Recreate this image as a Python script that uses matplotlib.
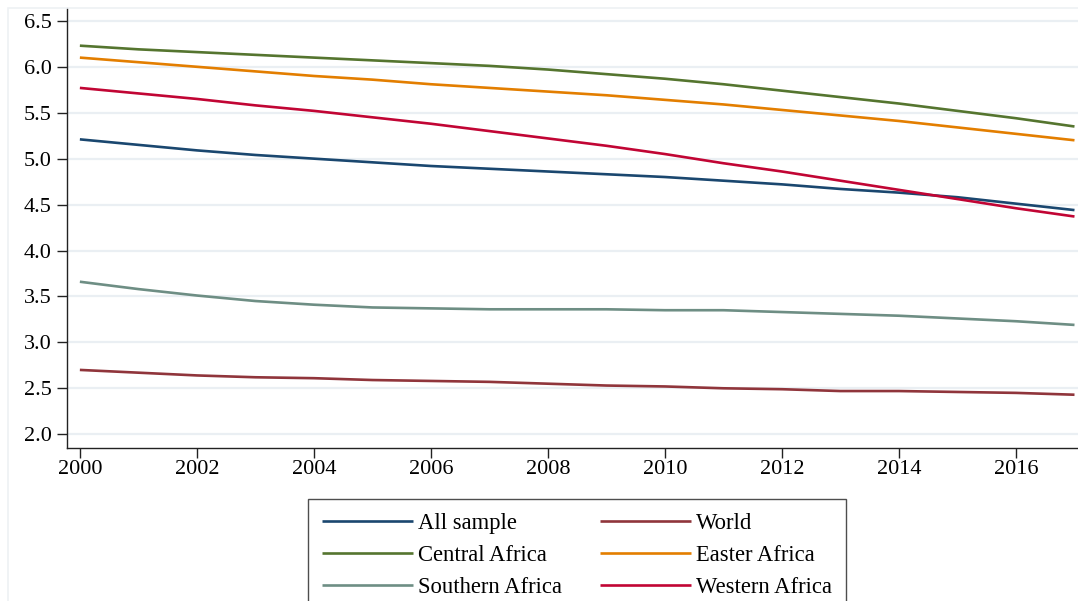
import matplotlib.pyplot as plt
from matplotlib.patches import Rectangle

years = list(range(2000, 2018))

all_sample = [5.21, 5.15, 5.09, 5.04, 5.00, 4.96, 4.92, 4.89, 4.86, 4.83,
              4.80, 4.76, 4.72, 4.67, 4.63, 4.58, 4.51, 4.44]
world = [2.70, 2.67, 2.64, 2.62, 2.61, 2.59, 2.58, 2.57, 2.55, 2.53,
         2.52, 2.50, 2.49, 2.47, 2.47, 2.46, 2.45, 2.43]
central_africa = [6.23, 6.19, 6.16, 6.13, 6.10, 6.07, 6.04, 6.01, 5.97, 5.92,
                  5.87, 5.81, 5.74, 5.67, 5.60, 5.52, 5.44, 5.35]
easter_africa = [6.10, 6.05, 6.00, 5.95, 5.90, 5.86, 5.81, 5.77, 5.73, 5.69,
                 5.64, 5.59, 5.53, 5.47, 5.41, 5.34, 5.27, 5.20]
southern_africa = [3.66, 3.58, 3.51, 3.45, 3.41, 3.38, 3.37, 3.36, 3.36, 3.36,
                   3.35, 3.35, 3.33, 3.31, 3.29, 3.26, 3.23, 3.19]
western_africa = [5.77, 5.71, 5.65, 5.58, 5.52, 5.45, 5.38, 5.30, 5.22, 5.14,
                  5.05, 4.95, 4.86, 4.76, 4.66, 4.56, 4.46, 4.37]

series = [
    ("All sample", all_sample, "#1a476f"),
    ("World", world, "#90353b"),
    ("Central Africa", central_africa, "#55752f"),
    ("Easter Africa", easter_africa, "#e37e00"),
    ("Southern Africa", southern_africa, "#6e8e84"),
    ("Western Africa", western_africa, "#c10534"),
]

yticks = [2.0, 2.5, 3.0, 3.5, 4.0, 4.5, 5.0, 5.5, 6.0, 6.5]
xticks = list(range(2000, 2017, 2))

plt.rcParams["font.family"] = ["Liberation Serif", "DejaVu Serif"]

W, H = 1078, 601
fig = plt.figure(figsize=(W / 100, H / 100), dpi=100)
fig.patch.set_facecolor("white")

# faint outline of the plot region
fig.patches.append(Rectangle((8 / W, -0.1), 1.2, 1.1 - 8 / H,
                             transform=fig.transFigure, fill=False,
                             edgecolor="#eef1f4", linewidth=1.2))

ax = fig.add_axes([67 / W, 1 - 448 / H, 1 - 67 / W, (448 - 8) / H])

lines = {}
for label, values, color in series:
    lines[label], = ax.plot(years, values, color=color, linewidth=1.9,
                            label=label, solid_capstyle="butt")

ax.set_xlim(1999.78, 2017.06)
ax.set_ylim(1.85, 6.64)
ax.set_xticks(xticks)
ax.set_yticks(yticks)
ax.set_yticklabels([f"{v:.1f}" for v in yticks])
ax.grid(axis="y", color="#eaeff3", linewidth=1.6)
ax.set_axisbelow(True)

for side in ["top", "right"]:
    ax.spines[side].set_visible(False)
for side in ["left", "bottom"]:
    ax.spines[side].set_color("#222222")
    ax.spines[side].set_linewidth(1.0)

ax.tick_params(axis="both", direction="out", length=7, width=1.0,
               color="#222222", labelsize=16, labelcolor="black")
ax.tick_params(axis="y", pad=4)
ax.tick_params(axis="x", pad=2)

# legend fills column by column, so order entries to read across rows
order = ["All sample", "Central Africa", "Southern Africa",
         "World", "Easter Africa", "Western Africa"]
leg = ax.legend([lines[k] for k in order], order,
                loc="upper left", ncol=2, mode="expand",
                bbox_to_anchor=(308 / W, -0.2, (846 - 308) / W, 0.2 + 1 - 499 / H),
                bbox_transform=fig.transFigure, fontsize=16.3, frameon=True,
                fancybox=False, handlelength=4.05, handletextpad=0.22,
                labelspacing=0.5, borderpad=0.6, borderaxespad=0,
                columnspacing=1.5)
leg.get_frame().set_edgecolor("#222222")
leg.get_frame().set_linewidth(1.0)

fig.savefig("out.png", dpi=100, facecolor="white")
